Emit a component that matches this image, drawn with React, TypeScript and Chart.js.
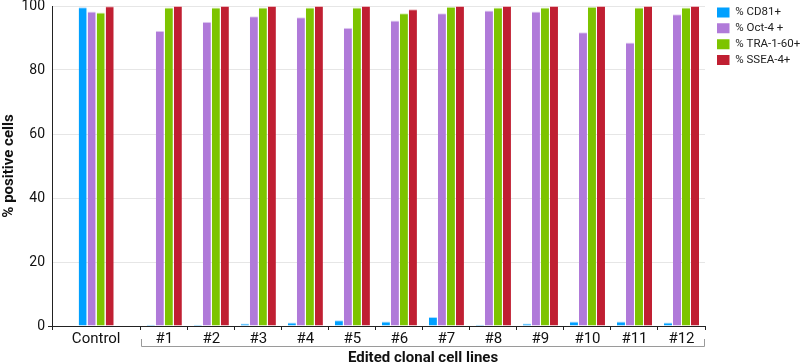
import React, { useEffect, useRef } from 'react';
import { Chart, registerables } from 'chart.js';

Chart.register(...registerables);

// ---- data ----
const categories = ['Control', '#1', '#2', '#3', '#4', '#5', '#6', '#7', '#8', '#9', '#10', '#11', '#12'];
const seriesNames = ['% CD81+', '% Oct-4 +', '% TRA-1-60+', '% SSEA-4+'];
const cd81 = [99.6, 0.4, 0.4, 0.8, 1.1, 1.8, 1.4, 2.8, 0.4, 0.8, 1.4, 1.4, 1.1];
const oct4 = [98.3, 92.3, 95.1, 96.8, 96.5, 93.2, 95.5, 97.7, 98.6, 98.3, 91.8, 88.6, 97.4];
const tra160 = [98.0, 99.5, 99.5, 99.5, 99.5, 99.5, 97.7, 99.8, 99.5, 99.5, 99.8, 99.5, 99.5];
const ssea4 = [99.9, 100, 100, 100, 100, 100, 99.0, 100, 100, 100, 100, 100, 100];
const yTicks = [0, 20, 40, 60, 80, 100];
const yTitle = '% positive cells';
const groupTitle = 'Edited clonal cell lines';

// ---- layout / style ----
const CONTROL_X = 0.94;
const CLONE_OFFSET = 1.39;
const X_MAX = 13.89;
const xFor = (i: number) => (i === 0 ? CONTROL_X : i + CLONE_OFFSET);
const key = (v: number) => v.toFixed(2);

const boundaries = [0, xFor(1) - 0.5, ...categories.slice(1).map((_, k) => xFor(k + 1) + 0.5)];
const boundarySet = new Set(boundaries.map(key));
const labelMap = new Map(categories.map((c, i) => [key(xFor(i)), c]));

const colors = ['#00a0ff', '#b07ad9', '#7dc400', '#c01f32'];
const caps = ['#a8dcff', '#e2d3f2', '#d6eeb0', '#ebb5bc'];
const seriesValues = [cd81, oct4, tra160, ssea4];

const AXIS = '#222222';
const FONT = 'Roboto';

const bracketPlugin = {
  id: 'bracket',
  afterDraw(chart: any) {
    const xs = chart.scales.x;
    const ctx = chart.ctx;
    const x1 = Math.round(xs.getPixelForValue(xFor(1) - 0.5)) + 0.5;
    const x2 = Math.round(xs.getPixelForValue(X_MAX)) - 0.5;
    const yLine = Math.round(xs.top + 20) + 0.5;
    ctx.save();
    ctx.strokeStyle = '#9a9a9a';
    ctx.lineWidth = 1;
    ctx.beginPath();
    ctx.moveTo(x1, yLine - 7.5);
    ctx.lineTo(x1, yLine);
    ctx.lineTo(x2, yLine);
    ctx.lineTo(x2, yLine - 7.5);
    ctx.stroke();
    ctx.font = `bold 15px ${FONT}`;
    ctx.fillStyle = '#111111';
    ctx.textAlign = 'center';
    ctx.textBaseline = 'alphabetic';
    ctx.fillText(groupTitle, (x1 + x2) / 2, xs.top + 36.3);
    ctx.restore();
  },
};

export default function App() {
  const ref = useRef<HTMLCanvasElement | null>(null);

  useEffect(() => {
    document.body.style.margin = '0';
    if (!ref.current) return;
    Chart.defaults.font.family = FONT;
    Chart.defaults.color = '#1a1a1a';

    const datasets = seriesNames.map((name, s) => ({
      label: name,
      data: seriesValues[s].map((v, i) => ({ x: xFor(i), y: v })),
      backgroundColor: colors[s],
      borderColor: caps[s],
      borderWidth: { top: 1, left: 0, right: 0, bottom: 0 },
      borderSkipped: 'start',
      categoryPercentage: 1.533,
      barPercentage: 0.889,
    }));

    const chart = new Chart(ref.current, {
      type: 'bar',
      data: { datasets: datasets as any },
      plugins: [bracketPlugin],
      options: {
        animation: false,
        responsive: false,
        maintainAspectRatio: false,
        layout: { padding: { top: 2.4, left: 0, right: 0, bottom: 0 } },
        plugins: {
          tooltip: { enabled: false },
          legend: {
            position: 'right',
            align: 'start',
            maxWidth: 87.35,
            labels: {
              boxWidth: 12.5,
              boxHeight: 10,
              padding: 4.35,
              color: '#222222',
              font: { size: 11.5, family: FONT },
              generateLabels: (c: any) =>
                Chart.defaults.plugins.legend.labels
                  .generateLabels(c)
                  .map((l: any) => ({ ...l, lineWidth: 0, strokeStyle: 'rgba(0,0,0,0)' })),
            },
          },
        },
        scales: {
          x: {
            type: 'linear',
            min: 0,
            max: X_MAX,
            offset: false,
            grid: {
              offset: false,
              drawOnChartArea: false,
              drawTicks: true,
              tickLength: 4,
              tickColor: (ctx: any) =>
                ctx.tick && boundarySet.has(key(ctx.tick.value)) ? AXIS : 'rgba(0,0,0,0)',
            },
            border: { display: true, color: AXIS, width: 1 },
            afterBuildTicks: (scale: any) => {
              const vals = [...boundaries, ...categories.map((_, i) => xFor(i))].sort((a, b) => a - b);
              scale.ticks = vals.map((v) => ({ value: v }));
            },
            afterFit: (scale: any) => {
              scale.height = 38;
            },
            ticks: {
              autoSkip: false,
              maxRotation: 0,
              minRotation: 0,
              padding: 0,
              color: '#111111',
              font: { size: 15, family: FONT },
              callback: (v: any) => labelMap.get(key(Number(v))) ?? '',
            },
          },
          y: {
            type: 'linear',
            min: 0,
            max: 100,
            afterBuildTicks: (scale: any) => {
              scale.ticks = yTicks.map((v) => ({ value: v }));
            },
            afterFit: (scale: any) => {
              scale.width = 52;
              scale.paddingTop = 6;
            },
            grid: {
              color: '#e6e6e6',
              lineWidth: 1,
              tickLength: 4,
              tickColor: (ctx: any) => (ctx.tick && ctx.tick.value === 0 ? AXIS : 'rgba(0,0,0,0)'),
            },
            border: { display: true, color: AXIS, width: 1 },
            ticks: {
              padding: 3,
              color: '#111111',
              font: { size: 14, family: FONT },
            },
            title: {
              display: true,
              text: yTitle,
              color: '#111111',
              padding: { top: 0, bottom: 0 },
              font: { size: 15, weight: 'bold', family: FONT },
            },
          },
          y2: {
            type: 'linear',
            position: 'right',
            display: true,
            grid: { display: false, drawOnChartArea: false },
            border: { display: false },
            ticks: { display: false },
            afterFit: (scale: any) => {
              scale.width = 7.65;
            },
          },
        },
      } as any,
    });
    return () => chart.destroy();
  }, []);

  return <canvas ref={ref} width={800} height={364} style={{ display: 'block' }} />;
}
